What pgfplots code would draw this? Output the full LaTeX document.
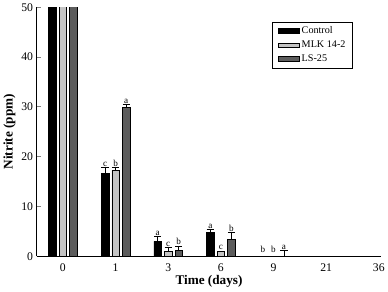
\documentclass[border=0pt]{standalone}
\usepackage{pgfplots}
\pgfplotsset{compat=1.18}
\usepackage{fontspec}
\setmainfont{Liberation Serif}
\definecolor{lgrey}{HTML}{C4C4C4}
\definecolor{dgrey}{HTML}{5C5C5C}
\pgfplotsset{mylegend/.style={legend image code/.code={\draw[##1, line width=0.5pt] (0cm,-0.085cm) rectangle (0.75cm,0.085cm);}}}
\begin{document}
\begin{tikzpicture}
\begin{axis}[
  scale only axis,
  width=338bp, height=244bp,
  xmin=-0.5, xmax=6.05,
  ymin=0, ymax=50,
  clip=true,
  axis x line=bottom, axis y line=left,
  axis line style={-, line width=0.9pt},
  xtick={0,1,2,3,4,5,6},
  xticklabels={0,1,3,6,9,21,36},
  major x tick style={draw=none},
  ytick={0,10,20,30,40,50},
  tick align=inside,
  major tick length=4bp,
  ytick style={line width=0.9pt},
  tick label style={font=\fontsize{11.5}{13}\selectfont},
  /pgf/number format/assume math mode=true,
  xlabel={\textbf{Time (days)}},
  ylabel={\textbf{Nitrite (ppm)}},
  label style={font=\fontsize{13}{15}\selectfont},
  xlabel style={yshift=3bp},
  ylabel style={yshift=-1bp},
  legend style={at={(0.683,0.943)}, anchor=north west, draw=black, line width=0.6pt,
    font=\fontsize{10}{11}\selectfont, inner xsep=5bp, inner ysep=3bp, row sep=1.5bp, cells={anchor=west}},
  ybar, bar width=7.3bp, bar shift=0pt,
  error bars/error bar style={line width=0.8pt, black},
  error bars/error mark options={rotate=90, mark size=3.5bp, line width=0.8pt},
]
\addplot[mylegend, fill=black, draw=black, line width=0.5pt,
  error bars/.cd, y dir=plus, y explicit]
  coordinates {(-0.2,60) (0.8,16.7) +- (0,1.1) (1.8,3.0) +- (0,1.0) (2.8,4.8) +- (0,0.6) (3.8,0)};
\addlegendentry{Control}
\addplot[mylegend, fill=lgrey, draw=black, line width=0.5pt,
  error bars/.cd, y dir=plus, y explicit]
  coordinates {(0,60) (1,17.3) +- (0,0.5) (2,1.0) +- (0,0.7) (3,1.0) (4,0)};
\addlegendentry{MLK 14-2}
\addplot[mylegend, fill=dgrey, draw=black, line width=0.5pt,
  error bars/.cd, y dir=plus, y explicit]
  coordinates {(0.2,60) (1.2,29.9) +- (0,0.6) (2.2,1.2) +- (0,0.8) (3.2,3.4) +- (0,1.4) (4.2,0) +- (0,1.1)};
\addlegendentry{LS-25}
\addplot[forget plot, draw=none, fill=none, mark=none, ybar=0pt,
  nodes near coords, point meta=explicit symbolic,
  every node near coord/.append style={font=\fontsize{9}{10}\selectfont, inner sep=1bp, anchor=south}]
  coordinates {(0.8,17.8)[c] (1,17.8)[b] (1.2,30.5)[a]
               (1.8,4.0)[a] (2,1.7)[c] (2.2,2.0)[b]
               (2.8,5.4)[a] (3,1.0)[c] (3.2,4.8)[b]
               (3.8,0.5)[b] (4,0.5)[b] (4.2,1.1)[a]};
\end{axis}
\end{tikzpicture}
\end{document}
